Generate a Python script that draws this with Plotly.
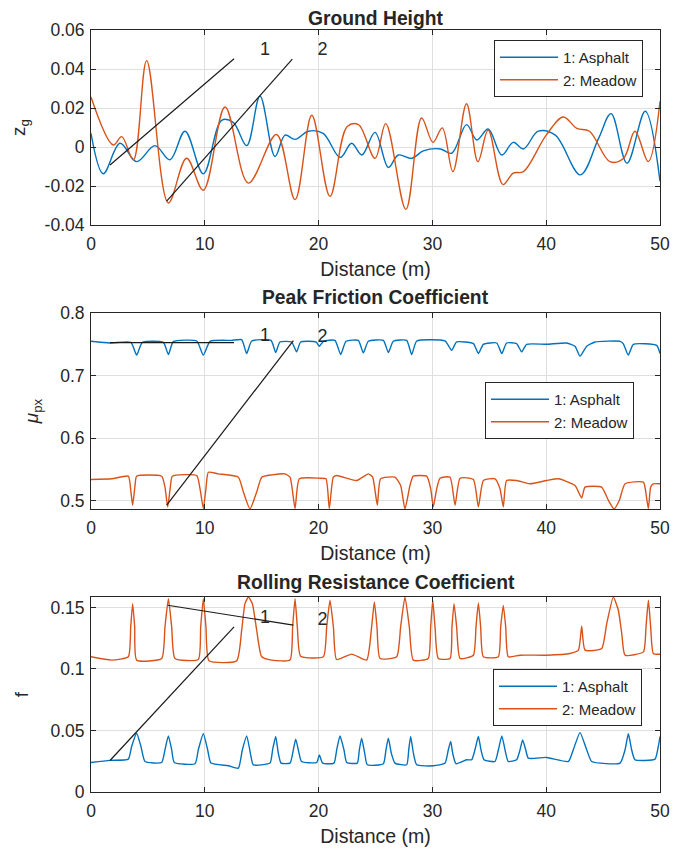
import plotly.graph_objects as go

# ---------------- data ----------------
# Ground height (m) vs distance (m)
gh_asphalt_x = [0, 1.08, 2.55, 4.01, 5.62, 6.94, 8.26, 9.87, 11.48, 12.5, 13.68, 14.85, 16.17, 17.05,
                17.93, 19.1, 20.4, 21.9, 22.9, 23.8, 24.96, 26.13, 27.0, 28.2, 29.2, 30.7, 31.7, 33.0,
                33.9, 34.9, 36.1, 37.1, 38.0, 39.3, 40.8, 43.0, 44.6, 45.7, 47.1, 48.7, 50.0]
gh_asphalt_z = [0.0070, -0.0137, 0.0019, -0.0075, 0.0007, -0.0066, 0.0081, -0.0137, 0.0137, 0.0126,
                0.0007, 0.0261, -0.0049, 0.0061, 0.0039, 0.0081, 0.0070, -0.0054, 0.0019, -0.0041,
                0.0075, -0.0105, -0.0041, -0.0058, -0.0020, -0.0010, -0.0032, 0.0115, 0.0036, 0.0092,
                -0.0041, 0.0024, -0.0010, 0.0081, 0.0061, -0.0143, 0.0044, 0.0171, -0.0083, 0.0183,
                -0.0176]
gh_meadow_x = [0, 1.96, 2.7, 3.72, 4.89, 6.8, 8.4, 9.87, 11.78, 13.83, 16.3, 17.93, 19.4, 21.0, 22.5,
               23.5, 24.96, 25.9, 27.67, 29.05, 30.05, 30.87, 31.8, 33.0, 34.0, 34.9, 36.2, 37.1, 38.0,
               40.0, 41.5, 42.7, 43.8, 45.6, 46.8, 47.8, 48.97, 50.0]
gh_meadow_z = [0.0256, 0.0010, 0.0053, -0.0066, 0.0443, -0.0287, -0.0058, -0.0222, 0.0205, -0.0185,
               0.0064, -0.0270, 0.0163, -0.0253, 0.0104, 0.0115, -0.0058, 0.0120, -0.0320, 0.0149,
               0.0024, 0.0098, -0.0126, 0.0222, -0.0075, 0.0087, -0.0193, -0.0134, -0.0126, 0.0061,
               0.0154, 0.0095, 0.0081, -0.0075, -0.0058, 0.0081, -0.0075, 0.0234]

# Peak friction coefficient
mu_asphalt_x = [0, 1.67, 3.51, 4.01, 4.51, 6.36, 6.8, 7.23, 9.29, 9.87, 10.46, 12.36, 13.24, 13.68, 14.12,
                15.82, 16.23, 16.6, 17.63, 18.07, 18.42, 19.77, 20.07, 20.42, 21.44, 21.94, 22.41, 23.49,
                23.93, 24.37, 25.69, 26.13, 26.56, 27.74, 28.18, 28.62, 31.11, 31.69, 32.13, 33.6, 34.04,
                34.48, 35.65, 36.1, 36.52, 37.4, 37.84, 38.28, 40.04, 41.8, 42.53, 42.97, 43.56, 44.29,
                46.5, 46.77, 47.21, 47.66, 49.71, 50.0]
mu_asphalt_v = [0.7548, 0.7521, 0.7532, 0.7327, 0.7532, 0.7532, 0.7337, 0.7542, 0.7553, 0.7327, 0.7548,
                0.7563, 0.7574, 0.7353, 0.7553, 0.7563, 0.7369, 0.7537, 0.7537, 0.7379, 0.7537, 0.7537,
                0.7469, 0.7548, 0.7563, 0.7337, 0.7548, 0.7563, 0.7363, 0.7548, 0.7563, 0.7369, 0.7548,
                0.7563, 0.7337, 0.7553, 0.7553, 0.7405, 0.7537, 0.7511, 0.7353, 0.7500, 0.7521, 0.7353,
                0.7521, 0.7511, 0.7379, 0.7500, 0.7500, 0.7521, 0.7469, 0.7311, 0.7469, 0.7537, 0.7548,
                0.7511, 0.7327, 0.7500, 0.7484, 0.7353]
mu_meadow_x = [0, 1.82, 3.28, 3.51, 3.66, 3.87, 4.01, 6.21, 6.5, 6.74, 6.97, 7.15, 9.29, 9.58, 9.87, 10.1,
               10.31, 11.19, 12.95, 13.39, 13.97, 14.56, 15.0, 15.88, 17.05, 17.49, 17.93, 18.31, 20.12,
               20.65, 20.94, 21.29, 21.58, 23.35, 24.37, 24.75, 25.16, 25.45, 26.71, 27.21, 27.59, 28.03,
               28.32, 29.5, 29.85, 30.08, 30.38, 30.67, 31.55, 31.99, 32.43, 33.6, 34.04, 34.48, 35.5,
               35.94, 36.23, 36.52, 37.4, 38.58, 40.04, 41.07, 42.53, 43.12, 43.41, 44.87, 45.46, 45.96,
               46.43, 46.93, 48.54, 48.83, 48.98, 49.18, 49.41, 50.0]
mu_meadow_v = [0.5341, 0.5352, 0.5394, 0.5141, 0.4931, 0.5246, 0.5394, 0.5394, 0.5220, 0.4904, 0.5220,
               0.5394, 0.5404, 0.5194, 0.4878, 0.5194, 0.5457, 0.5431, 0.5378, 0.5141, 0.4870, 0.5141,
               0.5378, 0.5415, 0.5431, 0.5378, 0.4878, 0.5352, 0.5362, 0.5352, 0.4878, 0.5378, 0.5404,
               0.5325, 0.5431, 0.5378, 0.4931, 0.5352, 0.5378, 0.5246, 0.4870, 0.5246, 0.5394, 0.5394,
               0.5194, 0.4904, 0.5194, 0.5362, 0.5378, 0.4931, 0.5362, 0.5341, 0.4904, 0.5325, 0.5352,
               0.5194, 0.4904, 0.5325, 0.5325, 0.5273, 0.5325, 0.5352, 0.5246, 0.5046, 0.5220, 0.5220,
               0.5010, 0.4870, 0.5010, 0.5273, 0.5299, 0.5036, 0.4878, 0.5220, 0.5273, 0.5273]

# Rolling resistance coefficient
f_asphalt_x = [0, 1.67, 3.28, 3.57, 4.01, 4.39, 4.75, 6.21, 6.5, 6.8, 7.09, 7.32, 9.14, 9.43, 9.87, 10.25,
               10.54, 12.07, 12.95, 13.3, 13.68, 14.06, 14.26, 15.73, 15.96, 16.23, 16.46, 16.7, 17.49,
               17.78, 17.99, 18.28, 18.5, 19.83, 20.07, 20.35, 21.35, 21.59, 21.88, 22.23, 22.47, 23.4,
               23.58, 23.78, 24.05, 24.28, 25.69, 25.92, 26.13, 26.39, 26.71, 27.74, 27.92, 28.09, 28.33,
               28.62, 30.08, 31.11, 31.4, 31.61, 31.78, 32.07, 33.0, 33.45, 33.74, 34.04, 34.27, 34.54,
               35.5, 35.8, 36.1, 36.38, 36.67, 37.4, 37.7, 37.93, 38.2, 38.43, 40.04, 41.95, 42.38, 42.97,
               43.56, 44.0, 46.49, 46.93, 47.22, 47.51, 47.8, 49.56, 49.85, 50.0]
f_asphalt_v = [0.0240, 0.0257, 0.0267, 0.0370, 0.0478, 0.0370, 0.0248, 0.0240, 0.0343, 0.0456, 0.0343,
               0.0240, 0.0230, 0.0343, 0.0473, 0.0343, 0.0235, 0.0213, 0.0194, 0.0343, 0.0456, 0.0289,
               0.0221, 0.0235, 0.0343, 0.0451, 0.0316, 0.0235, 0.0235, 0.0343, 0.0429, 0.0316, 0.0248,
               0.0240, 0.0302, 0.0235, 0.0235, 0.0343, 0.0456, 0.0343, 0.0240, 0.0235, 0.0343, 0.0437,
               0.0316, 0.0221, 0.0230, 0.0343, 0.0437, 0.0316, 0.0235, 0.0221, 0.0343, 0.0451, 0.0316,
               0.0221, 0.0213, 0.0235, 0.0343, 0.0410, 0.0316, 0.0230, 0.0262, 0.0262, 0.0343, 0.0451,
               0.0343, 0.0262, 0.0248, 0.0343, 0.0456, 0.0343, 0.0248, 0.0262, 0.0343, 0.0424, 0.0343,
               0.0275, 0.0281, 0.0248, 0.0343, 0.0483, 0.0343, 0.0248, 0.0235, 0.0343, 0.0473, 0.0343,
               0.0262, 0.0267, 0.0370, 0.0451]
f_meadow_x = [0, 1.82, 3.28, 3.49, 3.66, 3.84, 4.01, 6.21, 6.5, 6.8, 7.09, 7.38, 9.43, 9.64, 9.87, 10.1,
              10.37, 12.8, 13.24, 13.53, 13.83, 14.18, 14.56, 15.0, 15.88, 17.49, 17.72, 17.93, 18.13,
              18.42, 20.42, 20.71, 21.0, 21.3, 21.58, 22.91, 24.22, 24.66, 24.9, 25.13, 25.4, 26.86, 27.21,
              27.59, 27.97, 28.32, 29.63, 29.85, 30.03, 30.23, 30.52, 31.55, 31.72, 31.9, 32.13, 32.43,
              33.6, 33.83, 34.04, 34.24, 34.48, 35.79, 36.0, 36.23, 36.44, 36.67, 37.7, 40.04, 42.09,
              42.83, 43.12, 43.41, 44.87, 45.32, 45.9, 46.34, 46.64, 46.93, 48.54, 48.77, 48.98, 49.18,
              49.41, 50.0]
f_meadow_v = [0.1099, 0.1072, 0.1099, 0.1342, 0.1531, 0.1342, 0.1072, 0.1085, 0.1342, 0.1571, 0.1342,
              0.1085, 0.1077, 0.1342, 0.1571, 0.1342, 0.1066, 0.1066, 0.1315, 0.1531, 0.1584, 0.1531,
              0.1315, 0.1099, 0.1072, 0.1072, 0.1342, 0.1571, 0.1342, 0.1104, 0.1099, 0.1342, 0.1558,
              0.1342, 0.1077, 0.1121, 0.1072, 0.1342, 0.1544, 0.1342, 0.1085, 0.1099, 0.1342, 0.1585,
              0.1342, 0.1072, 0.1085, 0.1342, 0.1558, 0.1342, 0.1085, 0.1085, 0.1342, 0.1531, 0.1342,
              0.1085, 0.1112, 0.1342, 0.1536, 0.1342, 0.1099, 0.1099, 0.1342, 0.1517, 0.1342, 0.1099,
              0.1112, 0.1112, 0.1126, 0.1153, 0.1347, 0.1153, 0.1166, 0.1369, 0.1584, 0.1477, 0.1288,
              0.1112, 0.1139, 0.1342, 0.1558, 0.1342, 0.1126, 0.1120]

# Leftover annotation lines and their labels ("1", "2") in each panel
ann1_x = [[1.67, 12.57], [6.65, 17.69]]
ann1_y = [[-0.0092, 0.0453], [-0.0278, 0.0451]]
ann2_x = [[1.67, 12.57], [6.65, 17.78]]
ann2_y = [[0.7526, 0.7526], [0.493, 0.756]]
ann3_x = [[6.74, 17.78], [1.67, 12.57]]
ann3_y = [[0.1518, 0.1356], [0.0256, 0.1342]]
label_text = ["1", "2"]
label_x = [15.29, 20.35]
label_y1 = [0.0494, 0.0494]
label_y2 = [0.7627, 0.7610]
label_y3 = [0.1413, 0.1396]

series_names = ["1: Asphalt", "2: Meadow"]
panel_titles = ["Ground Height", "Peak Friction Coefficient", "Rolling Resistance Coefficient"]
x_ticks = [0, 10, 20, 30, 40, 50]
y1_ticks = [-0.04, -0.02, 0, 0.02, 0.04, 0.06]
y1_ticklabels = ["-0.04", "-0.02", "0", "0.02", "0.04", "0.06"]
y2_ticks = [0.5, 0.6, 0.7, 0.8]
y2_ticklabels = ["0.5", "0.6", "0.7", "0.8"]
y3_ticks = [0, 0.05, 0.1, 0.15]
y3_ticklabels = ["0", "0.05", "0.1", "0.15"]

# ---------------- figure ----------------
# The page body adds an 8 px margin, so the figure is laid out 8 px up/left.
OFF = 8
W, H = 686 - OFF, 852 - OFF
BLUE = "#0072BD"
ORANGE = "#D95319"
AX = "#262626"
GRID = "#dfdfdf"
FONT = "Liberation Sans, Arial, Helvetica, sans-serif"

def fx(px):
    return (px - OFF) / W

def fy(py):
    return 1 - (py - OFF) / H

fig = go.Figure()

panels = [
    (gh_asphalt_x, gh_asphalt_z, gh_meadow_x, gh_meadow_z, 1.0, ann1_x, ann1_y, label_y1),
    (mu_asphalt_x, mu_asphalt_v, mu_meadow_x, mu_meadow_v, 0.5, ann2_x, ann2_y, label_y2),
    (f_asphalt_x, f_asphalt_v, f_meadow_x, f_meadow_v, 0.5, ann3_x, ann3_y, label_y3),
]

for i, (ax_, ay_, mx_, my_, smooth, lx, ly, laby) in enumerate(panels):
    n = "" if i == 0 else str(i + 1)
    xa, ya = "x" + n, "y" + n
    leg = "legend" + n
    fig.add_trace(go.Scatter(x=ax_, y=ay_, mode="lines", name=series_names[0],
                             line=dict(color=BLUE, width=1.4, shape="spline", smoothing=smooth),
                             xaxis=xa, yaxis=ya, legend=leg))
    fig.add_trace(go.Scatter(x=mx_, y=my_, mode="lines", name=series_names[1],
                             line=dict(color=ORANGE, width=1.4, shape="spline", smoothing=smooth),
                             xaxis=xa, yaxis=ya, legend=leg))
    for sx, sy in zip(lx, ly):
        fig.add_trace(go.Scatter(x=sx, y=sy, mode="lines", showlegend=False,
                                 line=dict(color="#1a1a1a", width=1.2),
                                 xaxis=xa, yaxis=ya, hoverinfo="skip"))
    fig.add_trace(go.Scatter(x=label_x, y=laby, mode="text", text=label_text,
                             textfont=dict(size=18, color=AX, family=FONT),
                             textposition="middle center", showlegend=False,
                             xaxis=xa, yaxis=ya, hoverinfo="skip"))

xdom = [fx(91), fx(660)]
ydoms = [[fy(225), fy(30)], [fy(509), fy(313)], [fy(792), fy(597)]]
yranges = [[-0.04, 0.06], [0.487, 0.8], [0, 0.1585]]
yticks = [(y1_ticks, y1_ticklabels), (y2_ticks, y2_ticklabels), (y3_ticks, y3_ticklabels)]
ytitles = ["z<sub>g</sub>", "<i>μ</i><sub>px</sub>", "f"]

common_axis = dict(showline=True, linecolor=AX, linewidth=1, mirror="ticks",
                   ticks="inside", ticklen=5, tickcolor=AX, showgrid=True, gridcolor=GRID,
                   gridwidth=1, zeroline=False, tickfont=dict(size=17.5, color=AX, family=FONT))

layout_axes = {}
for i in range(3):
    n = "" if i == 0 else str(i + 1)
    layout_axes["xaxis" + n] = dict(common_axis, domain=xdom, range=[0, 50], anchor="y" + n,
                                    tickvals=x_ticks, ticktext=[str(t) for t in x_ticks],
                                    ticklabelstandoff=3,
                                    title=dict(text="Distance (m)", standoff=9,
                                               font=dict(size=19.5, color=AX, family=FONT)))
    layout_axes["yaxis" + n] = dict(common_axis, domain=ydoms[i], range=yranges[i], anchor="x" + n,
                                    tickvals=yticks[i][0], ticktext=yticks[i][1],
                                    ticklabelstandoff=2,
                                    title=dict(text=ytitles[i], standoff=16,
                                               font=dict(size=19, color=AX, family=FONT)))

# first title sits as high as the page margin allows
title_y = [19, 297, 582]
annotations = []
for t, yy in zip(panel_titles, title_y):
    annotations.append(dict(text="<b>" + t + "</b>", x=fx((91 + 660) / 2), y=fy(yy),
                            xref="paper", yref="paper", xanchor="center", yanchor="middle",
                            showarrow=False, font=dict(size=19.3, color=AX, family=FONT)))

legend_style = dict(bgcolor="white", bordercolor=AX, borderwidth=1, xanchor="right", yanchor="top",
                    font=dict(size=15, color=AX, family=FONT), itemwidth=58,
                    tracegroupgap=0)

fig.update_layout(
    width=W, height=H, margin=dict(l=0, r=0, t=0, b=0, autoexpand=False),
    paper_bgcolor="white", plot_bgcolor="white",
    font=dict(family=FONT, color=AX),
    annotations=annotations,
    legend=dict(legend_style, x=fx(643), y=fy(40)),
    legend2=dict(legend_style, x=fx(634), y=fy(382)),
    legend3=dict(legend_style, x=fx(642), y=fy(669)),
    **layout_axes,
)

fig.write_html("out.html")
